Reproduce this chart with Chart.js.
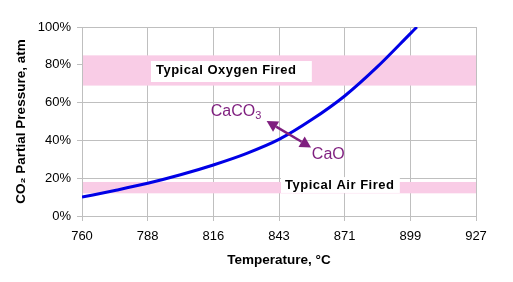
<!DOCTYPE html>
<html>
<head>
<meta charset="utf-8">
<script src="https://cdn.jsdelivr.net/npm/chart.js@4"></script>
<style>
  html, body { margin: 0; padding: 0; background: #fff; }
  #wrap { width: 513px; height: 282px; }
</style>
</head>
<body>
<div id="wrap"><canvas id="chart" width="513" height="282"></canvas></div>
<script>
// axis runs in °F internally (evenly spaced), labelled in °C
const tickValuesF = [1400, 1450, 1500, 1550, 1600, 1650, 1700]
const tickLabelsC = ['760', '788', '816', '843', '871', '899', '927']

// equilibrium CO2 partial pressure over CaCO3
const curveTempF = [1400, 1425, 1450, 1475, 1500, 1525, 1550, 1575, 1600, 1625, 1650, 1655]
const curvePct = [10, 13.5, 17.3, 21.8, 27, 33, 40.5, 51, 63.5, 79, 96.5, 100]

// shaded ranges [low, high] in %
const oxygenBand = [69, 85]
const airBand = [12, 18]

const purple = '#7f1f7f'
const gridGray = '#bfbfbf'
const fontFam = '"Liberation Sans", Arial, sans-serif'

const annotations = {
  id: 'annotations',
  beforeDatasetsDraw(chart) {
    const { ctx, chartArea, scales: { x, y } } = chart
    ctx.save()
    ctx.fillStyle = '#f9cce6'
    for (const band of [oxygenBand, airBand]) {
      const top = y.getPixelForValue(band[1])
      const bot = y.getPixelForValue(band[0])
      ctx.fillRect(chartArea.left + 1, top, chartArea.right - chartArea.left - 1, bot - top)
    }

    const box = (x0, x1, y0, y1, label, tx, ty) => {
      const px0 = x.getPixelForValue(x0), px1 = x.getPixelForValue(x1)
      const py0 = y.getPixelForValue(y0), py1 = y.getPixelForValue(y1)
      ctx.fillStyle = '#fff'
      ctx.fillRect(px0, py0, px1 - px0, py1 - py0)
      ctx.fillStyle = '#000'
      ctx.font = 'bold 13px ' + fontFam
      ctx.letterSpacing = '0.5px'
      ctx.textBaseline = 'middle'
      ctx.textAlign = 'left'
      ctx.fillText(label, x.getPixelForValue(tx), y.getPixelForValue(ty))
      ctx.letterSpacing = '0px'
    }
    box(1452.5, 1575, 82, 70.9, 'Typical Oxygen Fired', 1456.3, 77.2)
    box(1551.5, 1642, 20.6, 12.2, 'Typical Air Fired', 1554.6, 16.4)
    ctx.restore()
  },
  afterDatasetsDraw(chart) {
    const { ctx, scales: { x, y } } = chart
    ctx.save()
    ctx.fillStyle = purple
    ctx.strokeStyle = purple
    ctx.textBaseline = 'middle'
    ctx.textAlign = 'left'

    // CaCO3 label with subscript
    ctx.font = '16px ' + fontFam
    let lx = x.getPixelForValue(1498), ly = y.getPixelForValue(55.2)
    ctx.fillText('CaCO', lx, ly)
    const w = ctx.measureText('CaCO').width
    ctx.font = '11px ' + fontFam
    ctx.fillText('3', lx + w, ly + 4)

    ctx.font = '16px ' + fontFam
    ctx.fillText('CaO', x.getPixelForValue(1575), y.getPixelForValue(32.3))

    // double headed arrow
    const ax = x.getPixelForValue(1540.6), ay = y.getPixelForValue(50.3)
    const bx = x.getPixelForValue(1574.4), by = y.getPixelForValue(36.3)
    const ang = Math.atan2(by - ay, bx - ax)
    const head = 11, half = 6
    ctx.lineWidth = 2.5
    ctx.beginPath()
    ctx.moveTo(ax + Math.cos(ang) * head, ay + Math.sin(ang) * head)
    ctx.lineTo(bx - Math.cos(ang) * head, by - Math.sin(ang) * head)
    ctx.stroke()
    const tip = (px, py, a) => {
      ctx.beginPath()
      ctx.moveTo(px, py)
      const bxp = px - Math.cos(a) * head, byp = py - Math.sin(a) * head
      ctx.lineTo(bxp + Math.sin(a) * half, byp - Math.cos(a) * half)
      ctx.lineTo(bxp - Math.sin(a) * half, byp + Math.cos(a) * half)
      ctx.closePath()
      ctx.fill()
    }
    tip(bx, by, ang)
    tip(ax, ay, ang + Math.PI)
    ctx.restore()
  },
}

const ctx = document.getElementById('chart')
new Chart(ctx, {
  type: 'line',
  data: {
    datasets: [
      {
        data: curveTempF.map((t, i) => ({ x: t, y: curvePct[i] })),
        borderColor: '#0000e6',
        borderWidth: 3,
        pointRadius: 0,
        cubicInterpolationMode: 'monotone',
        fill: false,
      },
    ],
  },
  plugins: [annotations],
  options: {
    responsive: false,
    animation: false,
    events: [],
    layout: { padding: { top: 27, right: 37, left: 0, bottom: 0 } },
    plugins: { legend: { display: false }, tooltip: { enabled: false } },
    scales: {
      x: {
        type: 'linear',
        min: 1400,
        max: 1700,
        afterBuildTicks: (scale) => {
          scale.ticks = tickValuesF.map((v) => ({ value: v }))
        },
        afterFit: (scale) => { scale.height = 66 },
        grid: { color: gridGray, tickLength: 5, drawTicks: true },
        border: { color: gridGray },
        ticks: {
          padding: 8,
          maxRotation: 0,
          autoSkip: false,
          color: '#000',
          font: { family: fontFam, size: 13 },
          callback: (v) => tickLabelsC[tickValuesF.indexOf(v)],
        },
        title: {
          display: true,
          text: 'Temperature, °C',
          color: '#000',
          font: { family: fontFam, size: 13.5, weight: 'bold' },
          padding: { top: 0, bottom: 14 },
        },
      },
      y: {
        min: 0,
        max: 100,
        afterFit: (scale) => { scale.width = 82 },
        grid: { color: gridGray, tickLength: 5 },
        border: { color: gridGray },
        ticks: {
          stepSize: 20,
          padding: 6,
          color: '#000',
          font: { family: fontFam, size: 13 },
          callback: (v) => v + '%',
        },
        title: {
          display: true,
          text: 'CO₂ Partial Pressure, atm',
          color: '#000',
          font: { family: fontFam, size: 13.5, weight: 'bold' },
          padding: { top: 13, bottom: 0 },
        },
      },
    },
  },
})
</script>
</body>
</html>
